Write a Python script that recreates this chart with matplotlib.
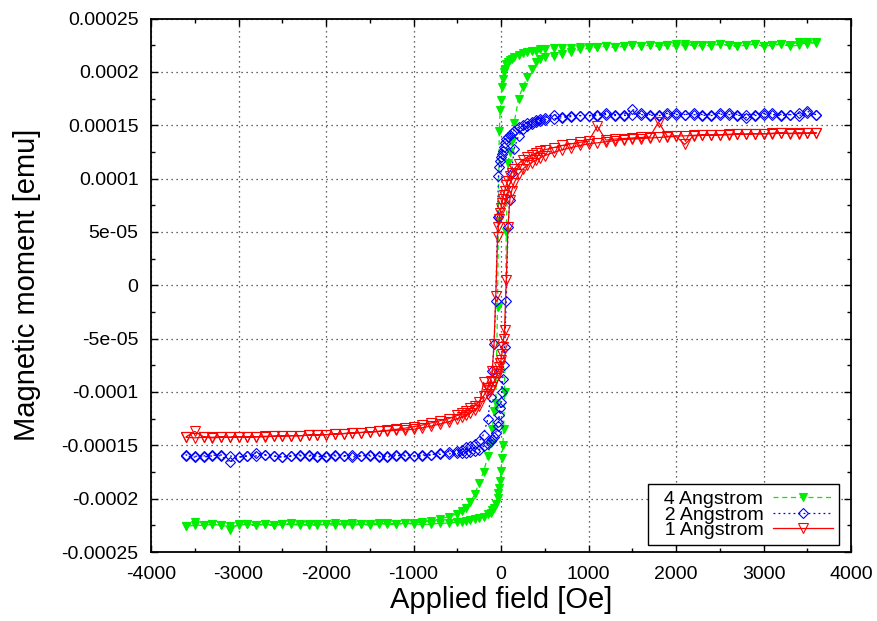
import numpy as np
import matplotlib
matplotlib.use("Agg")
import matplotlib.pyplot as plt
from matplotlib.ticker import MultipleLocator

plt.rcParams["font.family"] = ["Liberation Sans", "DejaVu Sans"]

# Field steps of the sweep from +H down to -H (Oe); the return sweep uses the same steps reversed
field_down = [3600, 3500, 3400, 3300, 3200, 3100, 3000, 2900, 2800, 2700, 2600, 2500, 2400, 2300,
              2200, 2100, 2000, 1900, 1800, 1700, 1600, 1500, 1400, 1300, 1200, 1100, 1000,
              900, 800, 700, 600, 500,
              450, 400, 350, 300, 250, 200, 150,
              120, 100, 80, 60, 40, 30, 20, 10,
              0,
              -10, -20, -30, -40, -60, -80, -100, -120,
              -150, -200, -250, -300, -350, -400, -450,
              -500, -600, -700, -800, -900,
              -1000, -1100, -1200, -1300, -1400, -1500, -1600, -1700, -1800, -1900, -2000, -2100,
              -2200, -2300, -2400, -2500, -2600, -2700, -2800, -2900, -3000, -3100, -3200, -3300,
              -3400, -3500, -3600]
field_up = field_down[::-1]

# Moments in micro-emu
# 4 Angstrom
m4_down = [228, 226, 228, 225, 226, 225, 224, 226, 225, 224, 225, 226, 224, 225, 225, 224, 226, 225,
           224, 225, 224, 225, 224, 223, 224, 223, 223,
           223, 222, 222, 222, 221,
           221, 220, 220, 219, 218, 216, 214,
           212, 211, 209, 207, 203, 200, 193, 186,
           174,
           164, 145, 60, -20, -110, -118, -135, -148,
           -160, -175, -185, -196, -203, -209, -212,
           -214, -217, -219, -221, -222,
           -223, -223, -224, -223, -224, -225, -224, -223, -224, -225, -224, -224, -225, -224,
           -223, -224, -225, -224, -225, -224, -224, -229, -225, -224, -225, -222, -226]
m4_up = [-226, -225, -225, -224, -225, -226, -225, -224, -225, -224, -225, -224, -224, -225,
         -224, -225, -224, -223, -224, -225, -224, -224, -223, -224, -224, -223, -224,
         -224, -224, -223, -223, -222,
         -222, -221, -220, -219, -218, -217, -214,
         -213, -211, -209, -205, -199, -195, -190, -183,
         -174,
         -162, -150, -135, -100, 50, 115, 125, 135,
         152, 175, 186, 195, 203, 209, 212,
         214, 215, 217, 219, 221,
         222, 223, 224, 223, 224, 225, 224, 225, 224, 225, 224, 226, 225, 224,
         225, 226, 225, 224, 225, 226, 224, 225, 226, 224, 225, 228, 227]

# 2 Angstrom
m2_down = [160, 161, 159, 160, 160, 161, 160, 159, 157, 160, 161, 160, 159, 160, 161, 160, 160, 161,
           160, 159, 160, 165, 160, 159, 160, 159, 159,
           159, 159, 158, 160, 157,
           156, 155, 153, 152, 150, 148, 145,
           143, 141, 139, 137, 133, 130, 126, 123,
           120,
           116, 111, 102, 64, -15, -55, -80, -105,
           -125, -140, -146, -149, -151, -152, -154,
           -155, -156, -157, -159, -159,
           -160, -159, -160, -161, -160, -159, -160, -161, -160, -159, -160, -161, -160, -159,
           -160, -161, -160, -159, -157, -160, -161, -166, -160, -159, -160, -161, -160]
m2_up = [-159, -160, -161, -160, -159, -160, -161, -160, -160, -159, -160, -161, -160, -160,
         -159, -160, -161, -160, -160, -159, -160, -160, -161, -160, -159, -160, -160,
         -160, -159, -158.5, -158, -157.5,
         -157, -157, -156, -155, -154, -151, -148.5,
         -146, -144, -142, -138, -132, -128, -122, -115,
         -109,
         -100, -88, -75, -58, -15, 55, 80, 105,
         128, 140, 146, 149, 151, 153, 154,
         155, 156, 157, 158, 159,
         159, 160, 161, 160, 159, 160, 161, 160, 159, 160, 161, 160, 160, 159,
         160, 161, 160, 159, 160, 160, 161, 160, 159, 160, 161, 163, 160]

# 1 Angstrom
m1_down = [143, 142.5, 143, 142, 143, 142.5, 142, 142, 141.5, 142, 141.5, 141, 141, 141, 140.5,
           140, 140, 139.5, 153, 139, 138.5, 138, 137.5, 137, 136, 149, 135,
           134, 132.5, 131, 129, 127,
           125.5, 124, 122, 120, 117.5, 114, 109,
           105, 102, 98, 94, 88, 85, 81, 77,
           72,
           68, 62, 55, 45, -10, -55, -80, -90,
           -96, -104, -109, -113, -115.5, -118, -120,
           -122, -125, -127, -129, -131,
           -132.5, -134, -135, -136, -137, -137.5, -138, -138.5, -139, -139.5, -140, -140,
           -140.5, -141, -141, -141, -141.5, -141.5, -142, -142, -142, -142.5, -142, -142.5,
           -142, -137, -142]
m1_up = [-142.5, -143, -142.5, -143, -142.5, -142.5, -142, -142.5, -142, -142, -141.5, -141.5,
         -141, -141, -140.5, -140.5, -140, -139.5, -139, -138.5, -138, -137.5, -137, -136.5,
         -136, -135.5, -135,
         -133.5, -132, -130, -128, -125,
         -123.5, -122, -119.5, -117, -113, -91, -102,
         -98, -95, -91, -87, -83, -80, -77, -73,
         -70,
         -64, -58, -50, -42, 5, 55, 80, 88,
         96, 104, 109, 112.5, 115, 117.5, 119.5,
         121.5, 124.5, 127, 129, 131,
         132.5, 133.5, 134.5, 135.5, 136.5, 137, 137.5, 138, 138.5, 139, 139.5, 132, 140,
         140.5, 140.5, 141, 141, 141.5, 141.5, 142, 142, 142, 142.5, 142.5, 142, 142.5, 142.5]

y_ticks = [-0.00025, -0.0002, -0.00015, -0.0001, -5e-05, 0, 5e-05, 0.0001, 0.00015, 0.0002, 0.00025]
y_tick_labels = ["-0.00025", "-0.0002", "-0.00015", "-0.0001", "-5e-05", "0",
                 "5e-05", "0.0001", "0.00015", "0.0002", "0.00025"]
x_ticks = [-4000, -3000, -2000, -1000, 0, 1000, 2000, 3000, 4000]
x_tick_labels = ["-4000", "-3000", "-2000", "-1000", "0", "1000", "2000", "3000", "4000"]
series_labels = ["4 Angstrom", "2 Angstrom", "1 Angstrom"]


def loop(down, up):
    # full loop: down sweep followed by the return sweep
    h = np.array(field_down + field_up, dtype=float)
    m = np.array(down + up, dtype=float) * 1e-6
    return h, m


fig = plt.figure(figsize=(8.77, 6.21), dpi=100)
ax = fig.add_axes([0.1722, 0.1111, 0.7982, 0.8591])

h4, mm4 = loop(m4_down, m4_up)
h2, mm2 = loop(m2_down, m2_up)
h1, mm1 = loop(m1_down, m1_up)

l4, = ax.plot(h4, mm4, color="#00ee00", ls=(0, (4, 3)), lw=0.9, marker="v", ms=6,
              mfc="#00ee00", mec="#00ee00", mew=0.8, label=series_labels[0])
l2, = ax.plot(h2, mm2, color="#0000ff", ls=(0, (1.5, 2.5)), lw=0.9, marker="D", ms=5,
              mfc="none", mec="#0000ff", mew=0.8, label=series_labels[1])
l1, = ax.plot(h1, mm1, color="#ff0000", ls="-", lw=0.9, marker="v", ms=7.5,
              mfc="none", mec="#ff0000", mew=0.8, label=series_labels[2])

ax.set_xlim(-4000, 4000)
ax.set_ylim(-0.00025, 0.00025)
ax.set_xticks(x_ticks)
ax.set_xticklabels(x_tick_labels)
ax.set_yticks(y_ticks)
ax.set_yticklabels(y_tick_labels)
ax.xaxis.set_minor_locator(MultipleLocator(500))
ax.yaxis.set_minor_locator(MultipleLocator(2.5e-05))
ax.tick_params(which="both", direction="in", top=True, right=True, labelsize=14)
ax.tick_params(which="major", length=5, width=1)
ax.tick_params(which="minor", length=3, width=1)
ax.tick_params(axis="x", pad=10)
ax.tick_params(axis="y", pad=9)
for sp in ax.spines.values():
    sp.set_linewidth(1.3)

ax.grid(True, which="major", color="0.2", ls=(0, (1, 3)), lw=0.9)
ax.set_axisbelow(True)

ax.set_xlabel("Applied field [Oe]", fontsize=21, labelpad=2)
ax.set_ylabel("Magnetic moment [emu]", fontsize=21, labelpad=15)

# text on the left of each sample, like the gnuplot key
leg = ax.legend(handles=[l4, l2, l1], labels=["  " + s for s in series_labels],
                loc="lower right", bbox_to_anchor=(0.983, 0.013),
                borderaxespad=0, markerfirst=False, numpoints=1, fontsize=14,
                handlelength=3.1, handletextpad=0.5, labelspacing=-0.1,
                fancybox=False, framealpha=1, edgecolor="black", borderpad=0.3)
leg.get_frame().set_linewidth(1.0)

fig.savefig("out.png", dpi=100)
